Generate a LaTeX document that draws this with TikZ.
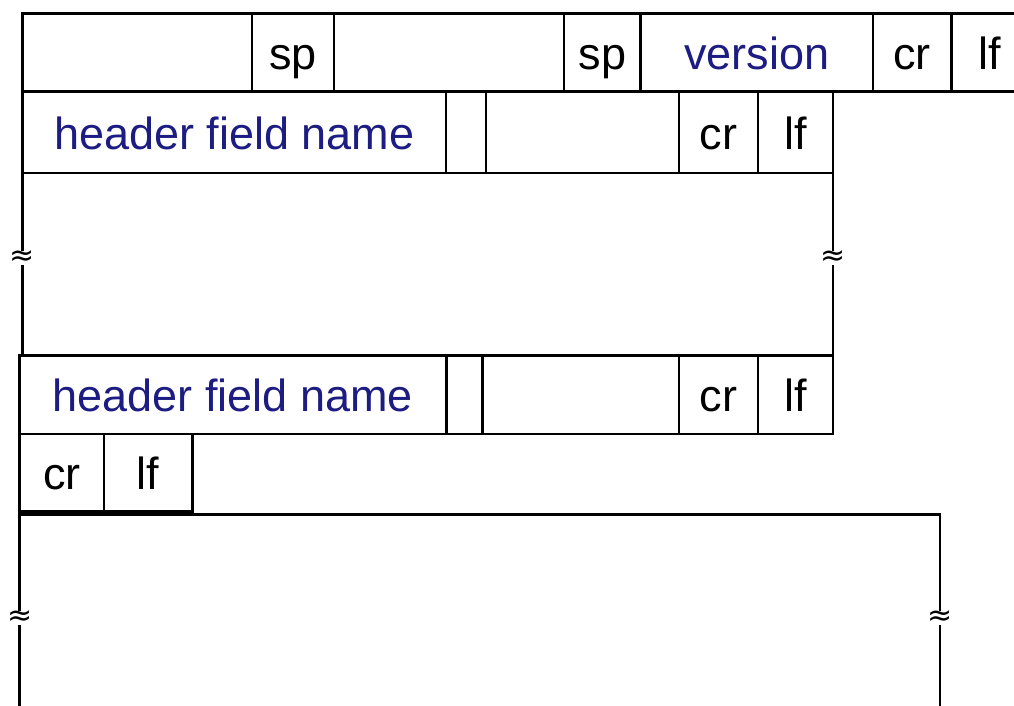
\documentclass[tikz,border=0pt]{standalone}
\usepackage{fontspec}
\usepackage{xcolor}
\setmainfont{Liberation Sans}
\newfontfamily\brkfont{DejaVu Sans}
\definecolor{fieldblue}{RGB}{28,28,130}

\begin{document}
\begin{tikzpicture}[x=1pt, y=-1pt,
		cell/.style={draw, line width=2.7pt, inner sep=0pt, outer sep=0pt, text height=34pt, text depth=0pt,
			font=\fontsize{45pt}{54pt}\selectfont},
		fieldcell/.style={cell, text=fieldblue},
		frame/.style={line width=2.7pt},
		brk/.style={fill=white, inner sep=0pt, font=\brkfont\fontsize{30pt}{30pt}\selectfont}]
		% Keep the page at the size of the picture
		\clip (0,0) rectangle (1014,706);

		% Request line
		\node[cell, minimum width=229.7pt, minimum height=77.6pt] (method) at (137.15,52.5) {};
		\node[cell, minimum width=82pt, minimum height=77.6pt] (spA) at (293,52.5) {sp};
		\node[cell, minimum width=230pt, minimum height=77.6pt] (url) at (449,52.5) {};
		\node[cell, minimum width=76.7pt, minimum height=77.6pt] (spB) at (602.35,52.5) {sp};
		\node[fieldcell, minimum width=232.3pt, minimum height=77.6pt] (version) at (756.85,52.5) {version};
		\node[cell, minimum width=78.3pt, minimum height=77.6pt] (crA) at (912.15,52.5) {cr};
		\node[cell, minimum width=76.7pt, minimum height=77.6pt] (lfA) at (989.65,52.5) {lf};

		% First header line
		\node[fieldcell, minimum width=423.7pt, minimum height=81.7pt] (nameA) at (234.15,132.15) {header field name};
		\node[cell, minimum width=40pt, minimum height=81.7pt] (gapA) at (466,132.15) {};
		\node[cell, minimum width=193pt, minimum height=81.7pt] (valueA) at (582.5,132.15) {};
		\node[cell, minimum width=79pt, minimum height=81.7pt] (crB) at (718.5,132.15) {cr};
		\node[cell, minimum width=75pt, minimum height=81.7pt] (lfB) at (795.5,132.15) {lf};

		% Last header line
		\node[fieldcell, minimum width=426.6pt, minimum height=78.7pt] (nameB) at (233,394.65) {header field name};
		\node[cell, minimum width=36pt, minimum height=78.7pt] (gapB) at (464.3,394.65) {};
		\node[cell, minimum width=196.7pt, minimum height=78.7pt] (valueB) at (580.65,394.65) {};
		\node[cell, minimum width=79pt, minimum height=78.7pt] (crC) at (718.5,394.65) {cr};
		\node[cell, minimum width=75pt, minimum height=78.7pt] (lfC) at (795.5,394.65) {lf};

		% Blank line
		\node[cell, minimum width=84.3pt, minimum height=77.5pt] (crD) at (61.85,472.75) {cr};
		\node[cell, minimum width=88.3pt, minimum height=77.5pt] (lfD) at (148.15,472.75) {lf};

		% Header lines in between
		\draw[frame] (nameA.south west) -- (nameA.south west |- nameB.north west);
		\draw[frame] (lfB.south east) -- (lfC.north east);
		\node[brk] (brkA) at (22.3,258) {≈};
		\node[brk] (brkB) at (833,258) {≈};

		% Entity body
		\draw[frame] (crD.south west |- 0,720) -- (crD.south west |- 0,514.5) -- (940,514.5) -- (940,720);
		\node[brk] (brkC) at (19.7,618) {≈};
		\node[brk] (brkD) at (940,618) {≈};
	\end{tikzpicture}
\end{document}
